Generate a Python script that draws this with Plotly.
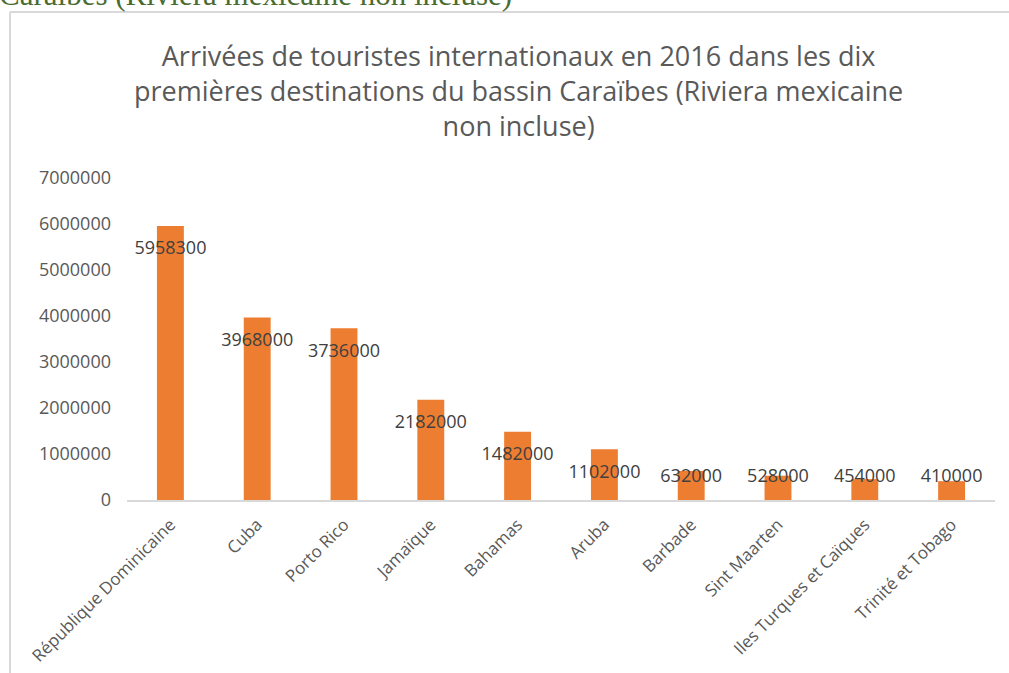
import plotly.graph_objects as go

categories = ["République Dominicaine", "Cuba", "Porto Rico", "Jamaïque", "Bahamas",
              "Aruba", "Barbade", "Sint Maarten", "Iles Turques et Caïques", "Trinité et Tobago"]
arrivals = [5958300, 3968000, 3736000, 2182000, 1482000, 1102000, 632000, 528000, 454000, 410000]
y_ticks = [0, 1000000, 2000000, 3000000, 4000000, 5000000, 6000000, 7000000]

title_text = ("Arrivées de touristes internationaux en 2016 dans les dix<br>"
              "premières destinations du bassin Caraïbes (Riviera mexicaine<br>"
              "non incluse)")
header_text = "Caraïbes (Riviera mexicaine non incluse)"

W, H = 1009, 673
L, R, T, B = 127, 14, 178, 173
pw, ph = W - L - R, H - T - B

def px_x(x):
    return (x - L) / pw

def px_y(y):
    return 1 + (T - y) / ph

# label positions: inside end of bar, clamped above the axis
label_offset = 520000
label_floor = 480000
label_y = [max(v - label_offset, label_floor) for v in arrivals]

fig = go.Figure()
fig.add_trace(go.Bar(
    x=categories, y=arrivals,
    marker=dict(color="#ED7D31", line=dict(width=0)),
    hoverinfo="x+y",
))
fig.add_trace(go.Scatter(
    x=categories, y=label_y, mode="text",
    text=[str(v) for v in arrivals],
    textposition="middle center",
    textfont=dict(family="Open Sans", size=18, color="#404040"),
    hoverinfo="skip",
))

fig.update_layout(
    width=W, height=H,
    margin=dict(l=L, r=R, t=T, b=B, autoexpand=False),
    paper_bgcolor="white", plot_bgcolor="white",
    showlegend=False,
    bargap=0.69,
    title=dict(
        text=title_text,
        x=0.514, xanchor="center", xref="container",
        y=1 - 66 / H, yanchor="top", yref="container",
        font=dict(family="Open Sans", size=27, color="#595959"),
    ),
    font=dict(family="Open Sans", color="#595959"),
)
fig.update_xaxes(
    tickangle=-45,
    tickfont=dict(family="Open Sans", size=17, color="#595959"),
    showline=True, linecolor="#D9D9D9", linewidth=2,
    showgrid=False, ticks="",
    ticklabelstandoff=6,
    automargin=False,
)
fig.update_yaxes(
    range=[0, 7000000],
    tickvals=y_ticks,
    ticktext=[str(v) for v in y_ticks],
    tickfont=dict(family="Open Sans", size=18, color="#595959"),
    showgrid=False, zeroline=False, showline=False, ticks="",
    ticklabelstandoff=15,
    automargin=False,
)

# surrounding frame (top and left border of the embedded chart)
fig.add_shape(type="line", xref="paper", yref="paper",
              x0=px_x(10), x1=px_x(W + 5), y0=px_y(12), y1=px_y(12),
              line=dict(color="#D9D9D9", width=2))
fig.add_shape(type="line", xref="paper", yref="paper",
              x0=px_x(10), x1=px_x(10), y0=px_y(12), y1=px_y(H + 5),
              line=dict(color="#D9D9D9", width=2))

fig.add_annotation(
    text=header_text, xref="paper", yref="paper",
    x=px_x(-3), y=px_y(14), xanchor="left", yanchor="bottom",
    showarrow=False,
    font=dict(family="Liberation Serif", size=31, color="#4A6B30"),
)

fig.write_html("out.html")
